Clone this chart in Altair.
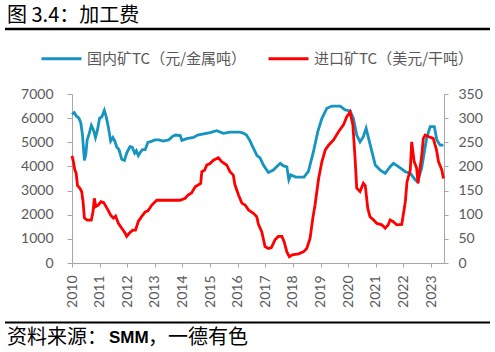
import altair as alt
import pandas as pd

# ---------------- data ----------------
series_names = ["国内矿TC（元/金属吨）", "进口矿TC（美元/干吨）"]
series_colors = ["#1494BE", "#FF0000"]

years = list(range(2010, 2024))
left_ticks = list(range(0, 7001, 1000))
right_ticks = list(range(0, 351, 50))

# domestic TC, yuan / metal ton (left axis), time in decimal years
blue_t = [2010.00, 2010.08, 2010.15, 2010.25, 2010.32, 2010.38, 2010.45, 2010.50, 2010.55, 2010.62,
          2010.70, 2010.78, 2010.85, 2010.92, 2011.00, 2011.08, 2011.17, 2011.24, 2011.32, 2011.40,
          2011.48, 2011.55, 2011.62, 2011.70, 2011.80, 2011.90, 2011.98, 2012.10, 2012.18, 2012.27,
          2012.33, 2012.40, 2012.48, 2012.55, 2012.65, 2012.75, 2012.90, 2013.00, 2013.15, 2013.30,
          2013.50, 2013.65, 2013.75, 2013.92, 2013.98, 2014.15, 2014.40, 2014.55, 2014.77, 2015.00,
          2015.24, 2015.48, 2015.72, 2016.08, 2016.20, 2016.32, 2016.45, 2016.55, 2016.70, 2016.81,
          2016.93, 2017.11, 2017.29, 2017.42, 2017.54, 2017.66, 2017.78, 2017.85, 2017.92, 2018.10,
          2018.40, 2018.56, 2018.74, 2018.90, 2019.05, 2019.23, 2019.41, 2019.71, 2019.89, 2020.07,
          2020.19, 2020.31, 2020.43, 2020.55, 2020.65, 2020.74, 2020.86, 2020.98, 2021.16, 2021.34,
          2021.52, 2021.64, 2021.82, 2022.07, 2022.25, 2022.43, 2022.51, 2022.66, 2022.84, 2022.97,
          2023.12, 2023.21, 2023.33, 2023.45]
blue_v = [6150, 6230, 6100, 6000, 5800, 5300, 4250, 4500, 5100, 5350,
          5700, 5500, 5200, 5500, 6000, 6050, 6320, 6050, 5600, 5050,
          5200, 5050, 4800, 4700, 4300, 4250, 4550, 4820, 4800, 4550,
          4650, 4450, 4600, 4700, 4700, 5000, 5050, 5100, 5100, 5050,
          5100, 5250, 5300, 5280, 5080, 5150, 5200, 5300, 5350, 5400,
          5480, 5370, 5420, 5420, 5380, 5300, 5050, 4800, 4450, 4350,
          4060, 3750, 3850, 4000, 4130, 4020, 3980, 3450, 3650, 3560,
          3560, 3800, 4600, 5440, 5990, 6410, 6500, 6500, 6340, 6300,
          5990, 5300, 5020, 5230, 5580, 5165, 4610, 4060, 3850, 3715,
          3990, 4130, 3990, 3780, 3715, 3440, 3370, 3920, 5160, 5650,
          5650, 5100, 4880, 4880]

# import TC, USD / dry ton (right axis)
red_t = [2010.00, 2010.05, 2010.10, 2010.15, 2010.20, 2010.28, 2010.35, 2010.40, 2010.45, 2010.55,
         2010.70, 2010.76, 2010.81, 2010.86, 2010.95, 2011.05, 2011.15, 2011.30, 2011.40, 2011.50,
         2011.58, 2011.68, 2011.80, 2011.92, 2011.98, 2012.08, 2012.20, 2012.30, 2012.40, 2012.52,
         2012.65, 2012.75, 2012.89, 2013.07, 2013.91, 2014.10, 2014.21, 2014.33, 2014.46, 2014.58,
         2014.66, 2014.70, 2014.80, 2014.88, 2015.00, 2015.12, 2015.30, 2015.42, 2015.60, 2015.72,
         2015.84, 2015.90, 2016.03, 2016.15, 2016.27, 2016.39, 2016.57, 2016.69, 2016.75, 2016.87,
         2016.99, 2017.11, 2017.22, 2017.35, 2017.47, 2017.60, 2017.68, 2017.78, 2017.87, 2017.98,
         2018.20, 2018.38, 2018.50, 2018.62, 2018.72, 2018.80, 2018.93, 2019.05, 2019.17, 2019.29,
         2019.47, 2019.65, 2019.83, 2019.95, 2020.07, 2020.17, 2020.25, 2020.31, 2020.43, 2020.55,
         2020.62, 2020.71, 2020.79, 2020.92, 2021.04, 2021.22, 2021.34, 2021.45, 2021.52, 2021.62,
         2021.76, 2021.94, 2022.07, 2022.13, 2022.25, 2022.30, 2022.39, 2022.48, 2022.53, 2022.60,
         2022.66, 2022.72, 2022.79, 2022.90, 2023.08, 2023.20, 2023.27, 2023.39, 2023.45]
red_v = [222, 210, 193, 186, 160, 155, 148, 127, 93, 89,
         89, 106, 134, 117, 120, 127, 125, 110, 99, 93,
         97, 82, 72, 62, 55, 62, 68, 68, 86, 96,
         106, 108, 120, 130, 130, 134, 141, 145, 158, 162,
         165, 189, 192, 203, 206, 213, 218, 210, 203, 189,
         182, 162, 141, 124, 120, 110, 103, 96, 80, 65,
         34, 30, 32, 48, 55, 55, 44, 23, 13, 17,
         19, 23, 30, 51, 93, 120, 175, 210, 234, 244,
         255, 272, 286, 303, 313, 286, 217, 155, 148, 165,
         160, 113, 96, 89, 82, 79, 72, 79, 89, 86,
         79, 80, 127, 168, 193, 251, 210, 196, 165, 196,
         220, 258, 265, 262, 258, 234, 210, 193, 175]

title_text = "图 3.4：加工费"
source_parts = ["资料来源：", "SMM", "，一德有色"]

# ---------------- chart ----------------
AXIS_GREY = "#A6A6A6"
LABEL_GREY = "#595959"
NUM_FONT = "Lato"
CJK_FONT = "Noto Sans CJK SC"

df_b = pd.DataFrame({"t": blue_t, "v": blue_v, "s": series_names[0]})
df_r = pd.DataFrame({"t": red_t, "v": red_v, "s": series_names[1]})

x_enc = alt.X(
    "t:Q",
    scale=alt.Scale(domain=[2010, 2023.47], nice=False, zero=False),
    axis=alt.Axis(
        values=years, format="d", labelAngle=270, title=None, grid=False,
        domainColor=AXIS_GREY, tickColor=AXIS_GREY, tickSize=4, labelPadding=8,
        labelFont=NUM_FONT, labelFontSize=14, labelColor=LABEL_GREY,
    ),
)

color_enc = alt.Color(
    "s:N",
    scale=alt.Scale(domain=series_names, range=series_colors),
    legend=alt.Legend(
        orient="none", legendX=-32, legendY=-57, direction="horizontal", title=None,
        symbolType="stroke", symbolSize=1600, symbolStrokeWidth=3,
        labelFont=CJK_FONT, labelFontSize=15, labelColor=LABEL_GREY,
        labelOffset=4, columnPadding=15, padding=0,
    ),
)

blue = alt.Chart(df_b).mark_line(strokeWidth=2.8).encode(
    x=x_enc,
    y=alt.Y(
        "v:Q",
        scale=alt.Scale(domain=[0, 7000], nice=False),
        axis=alt.Axis(
            orient="left", values=left_ticks, format="d", title=None, grid=False,
            domainColor=AXIS_GREY, tickColor=AXIS_GREY, tickSize=5, labelPadding=14,
            labelFont=NUM_FONT, labelFontSize=14, labelColor=LABEL_GREY,
        ),
    ),
    color=color_enc,
)

red = alt.Chart(df_r).mark_line(strokeWidth=2.8).encode(
    x=x_enc,
    y=alt.Y(
        "v:Q",
        scale=alt.Scale(domain=[0, 350], nice=False),
        axis=alt.Axis(
            orient="right", values=right_ticks, format="d", title=None, grid=False,
            domainColor=AXIS_GREY, tickColor=AXIS_GREY, tickSize=4, labelPadding=10,
            labelFont=NUM_FONT, labelFontSize=14, labelColor=LABEL_GREY,
        ),
    ),
    color=color_enc,
)

deco_df = pd.DataFrame({"k": [0]})
base = alt.Chart(deco_df)

title_mark = base.mark_text(
    text=title_text, font=CJK_FONT, fontSize=20, color="#000000",
    align="left", baseline="middle",
).encode(x=alt.value(-65), y=alt.value(-78))

top_rule = base.mark_rule(color="#000000", strokeWidth=2.5).encode(
    x=alt.value(-67), x2=alt.value(418), y=alt.value(-65)
)
bottom_rule = base.mark_rule(color="#000000", strokeWidth=2).encode(
    x=alt.value(-67), x2=alt.value(418), y=alt.value(228.5)
)

src1 = base.mark_text(
    text=source_parts[0], font=CJK_FONT, fontSize=20, color="#000000",
    align="left", baseline="middle",
).encode(x=alt.value(-65), y=alt.value(243.5))
src2 = base.mark_text(
    text=source_parts[1], font="Liberation Sans", fontSize=17, fontWeight="bold", color="#000000",
    align="left", baseline="middle",
).encode(x=alt.value(37), y=alt.value(244))
src3 = base.mark_text(
    text=source_parts[2], font=CJK_FONT, fontSize=20, color="#000000",
    align="left", baseline="middle",
).encode(x=alt.value(76), y=alt.value(243.5))

chart = (
    alt.layer(blue, red, title_mark, top_rule, bottom_rule, src1, src2, src3)
    .resolve_scale(y="independent")
    .properties(
        width=372, height=169,
        autosize=alt.AutoSizeParams(type="none"),
        padding={"left": 72, "top": 94, "right": 51, "bottom": 89},
        background="white",
    )
    .configure_view(stroke=None)
)

chart.save("out.html", embed_options={"renderer": "svg", "actions": False})
